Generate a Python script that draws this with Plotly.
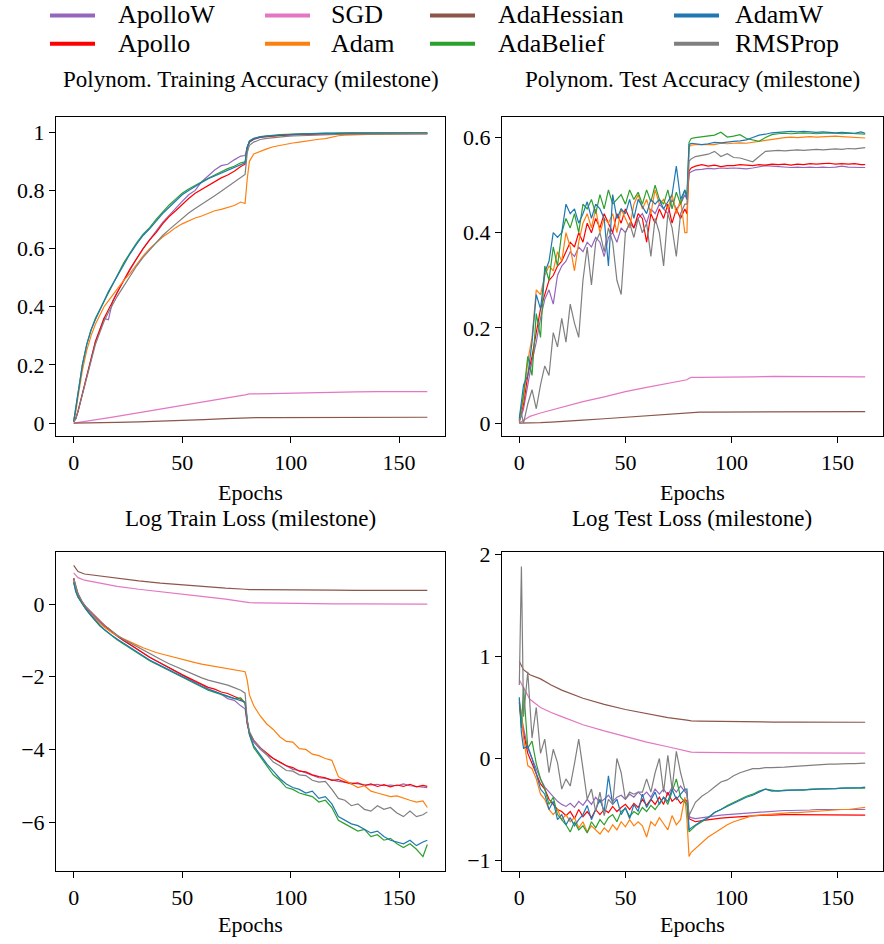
import plotly.graph_objects as go

W, H = 884, 944
FONT = "Liberation Serif"

# ---------------------------------------------------------------- data
# epochs at which the training-set curves and the loss curves are logged
EPOCHS = [0, 1, 2, 4, 6, 8, 10, 12, 14, 16, 18, 20,
          23, 26, 29, 32, 35, 38, 41, 44, 47, 50, 53, 56, 59, 62, 65, 68, 71, 74, 77,
          79, 80, 81,
          83, 86, 89, 92, 95, 98, 101, 104, 107, 110, 113, 116, 119, 122, 125, 128,
          131, 134, 137, 140, 143, 146, 149, 152, 155, 158, 161, 163]
# denser logging before the milestone for the test-set curves
EPOCHS_TEST = [0, 1, 2, 4, 6, 8, 10, 12, 14, 16, 18, 20, 22, 24, 26, 28, 30, 32, 34, 36, 38,
               40, 42, 44, 46, 48, 50, 52, 54, 56, 58, 60, 62, 64, 66, 68, 70, 72, 74, 76, 78,
               79, 80, 81,
               83, 86, 89, 92, 95, 98, 101, 104, 107, 110, 113, 116, 119, 122, 125, 128,
               131, 134, 137, 140, 143, 146, 149, 152, 155, 158, 161, 163]
# SGD and AdaHessian curves are smooth, logged coarsely
EPOCHS_SMOOTH = [0, 2, 5, 10, 15, 20, 30, 40, 50, 60, 70, 79, 80, 81, 85, 90,
                 100, 110, 120, 130, 140, 150, 163]

# training accuracy
TRAIN_ACC_APOLLOW = [0.005, 0.015, 0.04, 0.10, 0.17, 0.23, 0.28, 0.32, 0.36, 0.355, 0.42, 0.45,
                     0.49, 0.53, 0.565, 0.60, 0.632, 0.66, 0.69, 0.715, 0.74, 0.762, 0.785, 0.80, 0.83, 0.85, 0.87, 0.885, 0.89, 0.905, 0.918,
                     0.92, 0.95, 0.966,
                     0.975, 0.982, 0.985, 0.987, 0.989, 0.990, 0.991, 0.991, 0.992, 0.992, 0.993, 0.993, 0.993, 0.993,
                     0.994, 0.993, 0.994, 0.994, 0.994, 0.993, 0.994, 0.994, 0.994, 0.994, 0.994, 0.993, 0.994, 0.994]
TRAIN_ACC_APOLLO = [0.005, 0.018, 0.04, 0.10, 0.17, 0.23, 0.28, 0.32, 0.36, 0.39, 0.42, 0.45,
                    0.49, 0.53, 0.565, 0.60, 0.63, 0.655, 0.685, 0.71, 0.73, 0.752, 0.772, 0.79, 0.803, 0.818, 0.83, 0.843, 0.853, 0.866, 0.882,
                    0.89, 0.945, 0.967,
                    0.977, 0.983, 0.986, 0.988, 0.990, 0.991, 0.992, 0.993, 0.994, 0.994, 0.995, 0.995, 0.995, 0.996,
                    0.996, 0.996, 0.996, 0.996, 0.997, 0.997, 0.997, 0.997, 0.997, 0.997, 0.997, 0.997, 0.997, 0.997]
TRAIN_ACC_ADAM = [0.005, 0.04, 0.09, 0.18, 0.25, 0.30, 0.34, 0.37, 0.40, 0.42, 0.44, 0.46,
                  0.49, 0.515, 0.545, 0.575, 0.60, 0.62, 0.64, 0.655, 0.672, 0.685, 0.695, 0.705, 0.712, 0.722, 0.73, 0.735, 0.742, 0.748, 0.76,
                  0.755, 0.84, 0.90,
                  0.925, 0.935, 0.943, 0.95, 0.955, 0.96, 0.963, 0.966, 0.97, 0.973, 0.976, 0.978, 0.983, 0.988,
                  0.99, 0.991, 0.992, 0.993, 0.993, 0.994, 0.994, 0.994, 0.995, 0.995, 0.995, 0.995, 0.995, 0.995]
TRAIN_ACC_ADABELIEF = [0.005, 0.05, 0.10, 0.20, 0.27, 0.32, 0.36, 0.39, 0.42, 0.45, 0.48, 0.51,
                       0.55, 0.585, 0.62, 0.65, 0.672, 0.70, 0.725, 0.75, 0.77, 0.79, 0.805, 0.818, 0.83, 0.842, 0.853, 0.864, 0.875, 0.883, 0.895,
                       0.898, 0.948, 0.97,
                       0.979, 0.985, 0.988, 0.990, 0.992, 0.993, 0.994, 0.995, 0.996, 0.996, 0.997, 0.997, 0.997, 0.998,
                       0.998, 0.998, 0.998, 0.998, 0.998, 0.998, 0.998, 0.998, 0.998, 0.998, 0.998, 0.998, 0.998, 0.998]
TRAIN_ACC_ADAMW = [0.005, 0.05, 0.10, 0.20, 0.27, 0.32, 0.355, 0.39, 0.42, 0.452, 0.478, 0.508,
                   0.545, 0.582, 0.615, 0.645, 0.668, 0.695, 0.72, 0.742, 0.765, 0.785, 0.80, 0.815, 0.827, 0.84, 0.85, 0.86, 0.87, 0.88, 0.89,
                   0.895, 0.947, 0.969,
                   0.978, 0.984, 0.987, 0.989, 0.991, 0.992, 0.993, 0.994, 0.995, 0.995, 0.996, 0.996, 0.996, 0.997,
                   0.997, 0.997, 0.997, 0.997, 0.997, 0.997, 0.997, 0.997, 0.997, 0.997, 0.997, 0.997, 0.997, 0.997]
TRAIN_ACC_RMSPROP = [0.005, 0.015, 0.04, 0.10, 0.16, 0.22, 0.27, 0.31, 0.35, 0.38, 0.41, 0.435,
                     0.47, 0.505, 0.54, 0.57, 0.595, 0.62, 0.645, 0.665, 0.685, 0.705, 0.722, 0.738, 0.752, 0.767, 0.782, 0.797, 0.812, 0.827, 0.845,
                     0.855, 0.93, 0.955,
                     0.966, 0.975, 0.979, 0.982, 0.984, 0.986, 0.987, 0.988, 0.989, 0.990, 0.991, 0.991, 0.992, 0.992,
                     0.993, 0.993, 0.993, 0.994, 0.994, 0.994, 0.994, 0.994, 0.995, 0.995, 0.995, 0.995, 0.995, 0.995]
TRAIN_ACC_SGD = [0, 0.002, 0.005, 0.011, 0.017, 0.023, 0.036, 0.049, 0.061, 0.074, 0.086, 0.097,
                 0.099, 0.100, 0.100, 0.101, 0.102, 0.104, 0.106, 0.107, 0.108, 0.108, 0.108]
TRAIN_ACC_ADAHESSIAN = [0, 0, 0.0002, 0.0006, 0.001, 0.002, 0.004, 0.006, 0.009, 0.012, 0.015, 0.018,
                        0.0185, 0.0188, 0.019, 0.019, 0.019, 0.0193, 0.0195, 0.0197, 0.02, 0.02, 0.02]

# test accuracy (EPOCHS_TEST)
TEST_ACC_APOLLOW = [0.005, 0.015, 0.03, 0.08, 0.13, 0.17, 0.22, 0.26, 0.28, 0.25, 0.31, 0.33, 0.34, 0.36, 0.35, 0.37,
                    0.36, 0.38, 0.37, 0.39, 0.38, 0.35, 0.39, 0.40, 0.38, 0.41, 0.40, 0.42, 0.41, 0.43, 0.44, 0.42,
                    0.45, 0.44, 0.46, 0.45, 0.44, 0.47, 0.45, 0.46, 0.48,
                    0.47, 0.525, 0.528,
                    0.532, 0.533, 0.535, 0.534, 0.536, 0.535, 0.536, 0.535, 0.534, 0.536, 0.538, 0.541, 0.540, 0.539,
                    0.538, 0.537, 0.538, 0.537, 0.538, 0.537, 0.538, 0.537, 0.538, 0.540, 0.538, 0.537, 0.537, 0.537]
TEST_ACC_APOLLO = [0.005, 0.02, 0.04, 0.10, 0.14, 0.19, 0.24, 0.27, 0.30, 0.31, 0.33, 0.34, 0.36, 0.38, 0.37, 0.40,
                   0.38, 0.42, 0.40, 0.43, 0.41, 0.44, 0.42, 0.40, 0.44, 0.42, 0.45, 0.43, 0.41, 0.44, 0.43, 0.38,
                   0.44, 0.42, 0.45, 0.43, 0.46, 0.42, 0.45, 0.43, 0.45,
                   0.44, 0.53, 0.536,
                   0.540, 0.543, 0.540, 0.542, 0.539, 0.541, 0.541, 0.543, 0.542, 0.541, 0.543, 0.542, 0.544, 0.543,
                   0.544, 0.542, 0.544, 0.543, 0.545, 0.544, 0.545, 0.546, 0.544, 0.545, 0.544, 0.545, 0.543, 0.543]
TEST_ACC_ADAM = [0.005, 0.03, 0.05, 0.13, 0.18, 0.28, 0.27, 0.31, 0.33, 0.32, 0.36, 0.34, 0.40, 0.37, 0.32, 0.38,
                 0.42, 0.44, 0.41, 0.45, 0.40, 0.43, 0.42, 0.44, 0.40, 0.45, 0.43, 0.41, 0.46, 0.48, 0.45, 0.47,
                 0.44, 0.49, 0.46, 0.47, 0.45, 0.48, 0.44, 0.47, 0.40,
                 0.40, 0.58, 0.584,
                 0.585, 0.585, 0.586, 0.585, 0.588, 0.587, 0.588, 0.589, 0.588, 0.590, 0.592, 0.595, 0.597, 0.599,
                 0.600, 0.601, 0.600, 0.601, 0.602, 0.601, 0.602, 0.602, 0.603, 0.602, 0.601, 0.600, 0.599, 0.599]
TEST_ACC_ADABELIEF = [0.007, 0.03, 0.06, 0.14, 0.10, 0.23, 0.18, 0.33, 0.30, 0.37, 0.33, 0.40, 0.43, 0.41, 0.44, 0.40,
                      0.46, 0.45, 0.47, 0.44, 0.48, 0.45, 0.49, 0.46, 0.47, 0.48, 0.46, 0.49, 0.47, 0.485, 0.46, 0.49,
                      0.465, 0.50, 0.47, 0.46, 0.49, 0.45, 0.485, 0.46, 0.49,
                      0.48, 0.59, 0.598,
                      0.600, 0.602, 0.603, 0.605, 0.611, 0.601, 0.603, 0.606, 0.598, 0.595, 0.592, 0.600, 0.606, 0.608,
                      0.609, 0.608, 0.609, 0.610, 0.609, 0.608, 0.609, 0.610, 0.609, 0.608, 0.609, 0.608, 0.607, 0.607]
TEST_ACC_ADAMW = [0.01, 0.05, 0.08, 0.10, 0.17, 0.27, 0.24, 0.317, 0.34, 0.40, 0.39, 0.40, 0.46, 0.44, 0.45, 0.42,
                  0.44, 0.465, 0.43, 0.46, 0.45, 0.43, 0.33, 0.48, 0.43, 0.45, 0.44, 0.47, 0.43, 0.47, 0.455, 0.44,
                  0.47, 0.46, 0.47, 0.45, 0.465, 0.48, 0.54, 0.47, 0.49,
                  0.47, 0.585, 0.588,
                  0.587, 0.585, 0.587, 0.590, 0.589, 0.591, 0.592, 0.593, 0.595, 0.600, 0.605, 0.607, 0.610, 0.611,
                  0.612, 0.613, 0.612, 0.613, 0.612, 0.611, 0.612, 0.611, 0.610, 0.611, 0.610, 0.609, 0.612, 0.609]
TEST_ACC_RMSPROP = [0.0, 0.02, 0.0, 0.04, 0.07, 0.03, 0.08, 0.12, 0.10, 0.19, 0.16, 0.22, 0.17, 0.25, 0.21, 0.18,
                    0.30, 0.37, 0.29, 0.38, 0.40, 0.36, 0.41, 0.38, 0.30, 0.27, 0.40, 0.42, 0.39, 0.43, 0.40, 0.42,
                    0.35, 0.43, 0.40, 0.33, 0.44, 0.41, 0.35, 0.44, 0.46,
                    0.46, 0.55, 0.555,
                    0.560, 0.562, 0.565, 0.571, 0.560, 0.566, 0.558, 0.557, 0.553, 0.549, 0.560, 0.571, 0.572, 0.573,
                    0.572, 0.573, 0.574, 0.573, 0.574, 0.575, 0.574, 0.575, 0.576, 0.575, 0.577, 0.576, 0.578, 0.579]
TEST_ACC_SGD = [0, 0.006, 0.014, 0.021, 0.027, 0.033, 0.045, 0.055, 0.066, 0.075, 0.083, 0.091,
                0.094, 0.096, 0.096, 0.096, 0.097, 0.097, 0.098, 0.098, 0.098, 0.098, 0.097]
TEST_ACC_ADAHESSIAN = [0, 0, 0.0005, 0.001, 0.002, 0.003, 0.006, 0.009, 0.012, 0.015, 0.018, 0.021,
                       0.022, 0.022, 0.023, 0.023, 0.023, 0.024, 0.024, 0.024, 0.024, 0.024, 0.024]

# log training loss (EPOCHS)
TRAIN_LOSS_APOLLOW = [0.70, 0.44, 0.27, 0.04, -0.13, -0.27, -0.38, -0.50, -0.60, -0.66, -0.78, -0.88,
                      -1.00, -1.12, -1.24, -1.36, -1.46, -1.56, -1.66, -1.76, -1.86, -1.95, -2.05, -2.15, -2.22, -2.33, -2.40, -2.48, -2.60, -2.65, -2.80,
                      -2.88, -3.30, -3.55,
                      -3.80, -4.00, -4.15, -4.25, -4.35, -4.45, -4.55, -4.58, -4.65, -4.70, -4.78, -4.80, -4.85, -4.88,
                      -4.90, -4.93, -4.95, -4.97, -4.98, -4.96, -5.00, -4.98, -5.00, -4.95, -5.00, -5.02, -5.05, -5.05]
TRAIN_LOSS_APOLLO = [0.72, 0.45, 0.28, 0.05, -0.10, -0.22, -0.35, -0.47, -0.58, -0.69, -0.79, -0.88,
                     -1.00, -1.11, -1.23, -1.36, -1.46, -1.56, -1.66, -1.76, -1.85, -1.94, -2.03, -2.12, -2.20, -2.29, -2.34, -2.42, -2.46, -2.55, -2.62,
                     -2.72, -3.30, -3.55,
                     -3.75, -3.95, -4.10, -4.25, -4.35, -4.45, -4.50, -4.60, -4.62, -4.70, -4.75, -4.78, -4.85, -4.83,
                     -4.90, -4.95, -4.92, -5.00, -4.95, -5.02, -4.97, -5.03, -4.98, -5.02, -4.96, -5.03, -4.99, -5.02]
TRAIN_LOSS_ADAM = [0.65, 0.40, 0.22, 0.00, -0.17, -0.30, -0.42, -0.53, -0.63, -0.72, -0.80, -0.87,
                   -0.96, -1.04, -1.12, -1.20, -1.27, -1.33, -1.38, -1.43, -1.48, -1.52, -1.57, -1.61, -1.65, -1.68, -1.72, -1.75, -1.78, -1.80, -1.83,
                   -1.86, -2.10, -2.50,
                   -2.80, -3.08, -3.30, -3.45, -3.65, -3.78, -3.80, -3.98, -4.00, -4.13, -4.17, -4.25, -4.30, -4.75,
                   -4.85, -4.95, -5.05, -5.00, -5.15, -5.20, -5.25, -5.30, -5.28, -5.35, -5.40, -5.45, -5.42, -5.60]
TRAIN_LOSS_ADABELIEF = [0.61, 0.35, 0.20, 0.00, -0.17, -0.32, -0.47, -0.60, -0.70, -0.80, -0.90, -0.98,
                        -1.10, -1.22, -1.34, -1.46, -1.56, -1.65, -1.74, -1.84, -1.92, -2.02, -2.10, -2.18, -2.27, -2.37, -2.43, -2.48, -2.55, -2.60, -2.58,
                        -2.72, -3.20, -3.60,
                        -3.95, -4.20, -4.45, -4.70, -4.85, -5.05, -5.10, -5.20, -5.25, -5.30, -5.45, -5.40, -5.60, -5.95,
                        -6.05, -6.15, -6.25, -6.20, -6.40, -6.35, -6.50, -6.45, -6.60, -6.70, -6.60, -6.75, -6.95, -6.62]
TRAIN_LOSS_ADAMW = [0.60, 0.34, 0.19, 0.00, -0.16, -0.31, -0.45, -0.58, -0.69, -0.79, -0.88, -0.96,
                    -1.08, -1.20, -1.32, -1.44, -1.54, -1.63, -1.72, -1.82, -1.90, -2.00, -2.08, -2.16, -2.25, -2.35, -2.41, -2.47, -2.53, -2.58, -2.66,
                    -2.70, -3.20, -3.58,
                    -3.90, -4.15, -4.40, -4.60, -4.80, -4.95, -5.05, -5.10, -5.20, -5.15, -5.35, -5.30, -5.50, -5.85,
                    -5.95, -6.05, -6.10, -6.20, -6.30, -6.25, -6.40, -6.50, -6.55, -6.60, -6.50, -6.65, -6.55, -6.50]
TRAIN_LOSS_RMSPROP = [0.72, 0.46, 0.29, 0.06, -0.10, -0.22, -0.35, -0.46, -0.57, -0.67, -0.76, -0.85,
                      -0.97, -1.07, -1.17, -1.27, -1.37, -1.46, -1.55, -1.64, -1.72, -1.80, -1.88, -1.96, -2.03, -2.09, -2.13, -2.18, -2.23, -2.30, -2.37,
                      -2.45, -3.20, -3.50,
                      -3.75, -3.95, -4.15, -4.35, -4.45, -4.58, -4.60, -4.70, -4.72, -4.85, -4.90, -4.88, -5.10, -5.35,
                      -5.40, -5.55, -5.50, -5.65, -5.70, -5.55, -5.65, -5.60, -5.75, -5.85, -5.70, -5.85, -5.80, -5.72]
TRAIN_LOSS_SGD = [0.86, 0.73, 0.66, 0.60, 0.54, 0.49, 0.41, 0.35, 0.28, 0.21, 0.14, 0.07,
                  0.05, 0.04, 0.035, 0.03, 0.02, 0.015, 0.01, 0.01, 0.005, 0.0, 0.0]
TRAIN_LOSS_ADAHESSIAN = [1.07, 0.90, 0.83, 0.79, 0.75, 0.71, 0.64, 0.58, 0.53, 0.48, 0.44, 0.41,
                         0.40, 0.40, 0.40, 0.395, 0.39, 0.385, 0.385, 0.38, 0.38, 0.38, 0.38]

# log test loss (EPOCHS_TEST)
TEST_LOSS_APOLLOW = [0.52, 0.40, 0.30, 0.10, 0.00, -0.10, -0.20, -0.28, -0.33, -0.38, -0.42, -0.45, -0.47, -0.44, -0.48, -0.42,
                     -0.46, -0.40, -0.45, -0.38, -0.43, -0.40, -0.36, -0.42, -0.38, -0.36, -0.40, -0.35, -0.38, -0.33, -0.37, -0.33,
                     -0.38, -0.30, -0.35, -0.30, -0.36, -0.28, -0.33, -0.27, -0.32,
                     -0.35, -0.57, -0.58,
                     -0.59, -0.58, -0.57, -0.56, -0.555, -0.55, -0.545, -0.54, -0.535, -0.53, -0.525, -0.52, -0.515, -0.51,
                     -0.51, -0.51, -0.51, -0.505, -0.505, -0.50, -0.50, -0.50, -0.50, -0.50, -0.50, -0.50, -0.50, -0.50]
TEST_LOSS_APOLLO = [0.55, 0.35, 0.25, 0.05, -0.05, -0.15, -0.25, -0.30, -0.40, -0.45, -0.50, -0.52, -0.56, -0.52, -0.59, -0.50,
                    -0.57, -0.52, -0.58, -0.50, -0.55, -0.50, -0.53, -0.47, -0.52, -0.48, -0.45, -0.50, -0.44, -0.48, -0.40, -0.46,
                    -0.40, -0.45, -0.38, -0.45, -0.33, -0.42, -0.38, -0.44, -0.40,
                    -0.42, -0.59, -0.60,
                    -0.62, -0.61, -0.60, -0.59, -0.585, -0.58, -0.575, -0.57, -0.565, -0.56, -0.56, -0.555, -0.555, -0.55,
                    -0.55, -0.55, -0.55, -0.55, -0.55, -0.55, -0.55, -0.55, -0.55, -0.55, -0.55, -0.555, -0.55, -0.555]
TEST_LOSS_ADAM = [0.55, 0.45, 0.20, -0.07, -0.10, -0.20, -0.35, -0.40, -0.50, -0.55, -0.50, -0.60, -0.55, -0.62, -0.58, -0.68,
                  -0.62, -0.72, -0.66, -0.70, -0.74, -0.68, -0.72, -0.65, -0.70, -0.62, -0.67, -0.60, -0.66, -0.62, -0.66, -0.77,
                  -0.62, -0.66, -0.58, -0.64, -0.70, -0.56, -0.65, -0.60, -0.38,
                  -0.60, -0.96, -0.92,
                  -0.88, -0.82, -0.77, -0.73, -0.69, -0.65, -0.62, -0.60, -0.58, -0.56, -0.555, -0.55, -0.54, -0.54,
                  -0.535, -0.53, -0.53, -0.525, -0.52, -0.515, -0.51, -0.51, -0.505, -0.50, -0.50, -0.495, -0.49, -0.48]
TEST_LOSS_ADABELIEF = [0.58, 0.30, 0.70, 0.10, 0.17, -0.05, -0.20, -0.30, -0.45, -0.38, -0.55, -0.60, -0.65, -0.72, -0.62, -0.70,
                       -0.66, -0.73, -0.62, -0.68, -0.60, -0.65, -0.58, -0.55, -0.62, -0.52, -0.49, -0.57, -0.52, -0.55, -0.48, -0.52,
                       -0.46, -0.50, -0.44, -0.38, -0.45, -0.33, -0.20, -0.38, -0.42,
                       -0.45, -0.72, -0.70,
                       -0.66, -0.62, -0.58, -0.53, -0.50, -0.46, -0.43, -0.40, -0.37, -0.35, -0.32, -0.30, -0.31, -0.32,
                       -0.31, -0.31, -0.305, -0.31, -0.30, -0.30, -0.30, -0.30, -0.295, -0.29, -0.29, -0.29, -0.285, -0.29]
TEST_LOSS_ADAMW = [0.60, 0.25, 0.10, 0.12, 0.00, -0.15, -0.30, -0.35, -0.50, -0.42, -0.60, -0.55, -0.65, -0.58, -0.66, -0.60,
                   -0.55, -0.46, -0.60, -0.50, -0.40, -0.52, -0.17, -0.45, -0.40, -0.55, -0.48, -0.59, -0.45, -0.52, -0.35, -0.48,
                   -0.40, -0.33, -0.45, -0.38, -0.42, -0.30, -0.40, -0.35, -0.30,
                   -0.30, -0.70, -0.68,
                   -0.65, -0.61, -0.58, -0.53, -0.50, -0.47, -0.44, -0.41, -0.38, -0.36, -0.33, -0.30, -0.32, -0.32,
                   -0.315, -0.31, -0.31, -0.305, -0.305, -0.30, -0.30, -0.30, -0.295, -0.29, -0.29, -0.285, -0.285, -0.28]
TEST_LOSS_RMSPROP = [0.72, 1.88, 0.41, 0.85, 0.20, 0.50, 0.05, 0.19, -0.14, 0.09, -0.04, -0.30, -0.20, -0.27, -0.05, 0.19,
                     -0.10, -0.40, -0.30, -0.52, -0.33, -0.56, -0.40, -0.45, 0.00, -0.14, -0.40, -0.33, -0.35, -0.33, -0.33, -0.20,
                     -0.33, -0.14, 0.00, -0.33, 0.03, -0.30, 0.07, -0.14, -0.30,
                     -0.33, -0.56, -0.52,
                     -0.43, -0.37, -0.33, -0.28, -0.23, -0.21, -0.17, -0.14, -0.12, -0.10, -0.10, -0.09, -0.09, -0.09,
                     -0.085, -0.08, -0.075, -0.07, -0.07, -0.065, -0.06, -0.055, -0.055, -0.05, -0.05, -0.05, -0.048, -0.045]
TEST_LOSS_SGD = [0.77, 0.69, 0.58, 0.50, 0.45, 0.41, 0.33, 0.27, 0.215, 0.16, 0.115, 0.075,
                 0.065, 0.062, 0.06, 0.058, 0.056, 0.055, 0.054, 0.053, 0.052, 0.052, 0.052]
TEST_LOSS_ADAHESSIAN = [0.95, 0.87, 0.82, 0.78, 0.72, 0.67, 0.59, 0.53, 0.48, 0.44, 0.40, 0.375,
                        0.37, 0.368, 0.366, 0.364, 0.36, 0.358, 0.357, 0.356, 0.356, 0.355, 0.355]

OPTIMIZERS = ["ApolloW", "Apollo", "SGD", "Adam", "AdaHessian", "AdaBelief", "AdamW", "RMSProp"]
COLORS = {
    "ApolloW": "#9467bd", "Apollo": "#ff0000", "SGD": "#e377c2", "Adam": "#ff7f0e",
    "AdaHessian": "#8c564b", "AdaBelief": "#2ca02c", "AdamW": "#1f77b4", "RMSProp": "#7f7f7f",
}
SMOOTH_RUNS = {"SGD", "AdaHessian"}

PANEL_TITLES = ["Polynom. Training Accuracy (milestone)", "Polynom. Test Accuracy (milestone)",
                "Log Train Loss (milestone)", "Log Test Loss (milestone)"]
PANEL_EPOCHS = [EPOCHS, EPOCHS_TEST, EPOCHS, EPOCHS_TEST]
X_TICKS = [0, 50, 100, 150]
Y_TICKS = [[0, 0.2, 0.4, 0.6, 0.8, 1], [0, 0.2, 0.4, 0.6], [-6, -4, -2, 0], [-1, 0, 1, 2]]
Y_TICK_LABELS = [["0", "0.2", "0.4", "0.6", "0.8", "1"], ["0", "0.2", "0.4", "0.6"],
                 ["\u22126", "\u22124", "\u22122", "0"], ["\u22121", "0", "1", "2"]]

PANEL_DATA = [
    {"ApolloW": TRAIN_ACC_APOLLOW, "Apollo": TRAIN_ACC_APOLLO, "SGD": TRAIN_ACC_SGD, "Adam": TRAIN_ACC_ADAM,
     "AdaHessian": TRAIN_ACC_ADAHESSIAN, "AdaBelief": TRAIN_ACC_ADABELIEF, "AdamW": TRAIN_ACC_ADAMW,
     "RMSProp": TRAIN_ACC_RMSPROP},
    {"ApolloW": TEST_ACC_APOLLOW, "Apollo": TEST_ACC_APOLLO, "SGD": TEST_ACC_SGD, "Adam": TEST_ACC_ADAM,
     "AdaHessian": TEST_ACC_ADAHESSIAN, "AdaBelief": TEST_ACC_ADABELIEF, "AdamW": TEST_ACC_ADAMW,
     "RMSProp": TEST_ACC_RMSPROP},
    {"ApolloW": TRAIN_LOSS_APOLLOW, "Apollo": TRAIN_LOSS_APOLLO, "SGD": TRAIN_LOSS_SGD, "Adam": TRAIN_LOSS_ADAM,
     "AdaHessian": TRAIN_LOSS_ADAHESSIAN, "AdaBelief": TRAIN_LOSS_ADABELIEF, "AdamW": TRAIN_LOSS_ADAMW,
     "RMSProp": TRAIN_LOSS_RMSPROP},
    {"ApolloW": TEST_LOSS_APOLLOW, "Apollo": TEST_LOSS_APOLLO, "SGD": TEST_LOSS_SGD, "Adam": TEST_LOSS_ADAM,
     "AdaHessian": TEST_LOSS_ADAHESSIAN, "AdaBelief": TEST_LOSS_ADABELIEF, "AdamW": TEST_LOSS_ADAMW,
     "RMSProp": TEST_LOSS_RMSPROP},
]

# ---------------------------------------------------------------- layout geometry (pixels)
# plot boxes: (left, top, right, bottom)
BOXES = [(56, 109.6, 445, 432.3), (502, 109.6, 882.5, 432.3),
         (56, 548.9, 445, 872.6), (502, 548.9, 882.5, 872.6)]
X_RANGE = [-8.15, 171.15]
Y_RANGES = [[-0.0454, 1.0513], [-0.0278, 0.6425], [-7.36, 1.45], [-1.107, 2.028]]
TITLE_Y = [71.0, 71.0, 516.0, 516.0]
XLABEL_Y = [489.0, 489.0, 926.0, 926.0]
TITLE_SIZE = 23
XLABEL_SIZE = 22


def fx(p):
    return p / W


def fy(p):
    return 1 - p / H


fig = go.Figure()

for i, series in enumerate(PANEL_DATA):
    suffix = "" if i == 0 else str(i + 1)
    for name in OPTIMIZERS:
        xs = EPOCHS_SMOOTH if name in SMOOTH_RUNS else PANEL_EPOCHS[i]
        ys = series[name]
        assert len(xs) == len(ys), (i, name, len(xs), len(ys))
        fig.add_trace(go.Scatter(
            x=xs, y=ys, mode="lines", name=name, showlegend=False,
            line=dict(color=COLORS[name], width=1.2),
            xaxis="x" + suffix, yaxis="y" + suffix,
        ))

axis_common = dict(
    showgrid=False, zeroline=False, showline=True, linecolor="black", linewidth=1,
    mirror=True, ticks="outside", ticklen=6, tickwidth=1, tickcolor="black",
    tickfont=dict(family=FONT, size=22, color="black"),
)

layout = dict(
    width=W, height=H, margin=dict(l=0, r=0, t=0, b=0),
    paper_bgcolor="white", plot_bgcolor="white",
    font=dict(family=FONT, color="black"),
    showlegend=False,
)

annotations = []
shapes = []
for i, (l, t, r, b) in enumerate(BOXES):
    suffix = "" if i == 0 else str(i + 1)
    layout["xaxis" + suffix] = dict(
        axis_common, domain=[fx(l), fx(r)], anchor="y" + suffix,
        range=X_RANGE, tickvals=X_TICKS, ticktext=[str(v) for v in X_TICKS],
    )
    layout["yaxis" + suffix] = dict(
        axis_common, domain=[fy(b), fy(t)], anchor="x" + suffix,
        range=Y_RANGES[i], tickvals=Y_TICKS[i], ticktext=Y_TICK_LABELS[i],
    )
    cx = (l + r) / 2
    annotations.append(dict(
        text=PANEL_TITLES[i], x=fx(cx), y=fy(TITLE_Y[i]), xref="paper", yref="paper",
        xanchor="center", yanchor="middle", showarrow=False,
        font=dict(family=FONT, size=TITLE_SIZE, color="black"),
    ))
    annotations.append(dict(
        text="Epochs", x=fx(cx), y=fy(XLABEL_Y[i]), xref="paper", yref="paper",
        xanchor="center", yanchor="middle", showarrow=False,
        font=dict(family=FONT, size=XLABEL_SIZE, color="black"),
    ))

# legend: four columns, two rows, filled column by column
LEGEND_LINE_X = [50, 265, 430, 674]
LEGEND_TEXT_X = [116, 329, 496, 733]
LEGEND_LINE_Y = [6.5, 35.2]
LEGEND_TEXT_Y = [6.0, 34.5]
for k, name in enumerate(OPTIMIZERS):
    col, row = divmod(k, 2)
    shapes.append(dict(
        type="line", xref="paper", yref="paper",
        x0=fx(LEGEND_LINE_X[col]), x1=fx(LEGEND_LINE_X[col] + 45),
        y0=fy(LEGEND_LINE_Y[row]), y1=fy(LEGEND_LINE_Y[row]),
        line=dict(color=COLORS[name], width=4),
    ))
    annotations.append(dict(
        text=name, x=fx(LEGEND_TEXT_X[col]), y=fy(LEGEND_TEXT_Y[row]), xref="paper", yref="paper",
        xanchor="left", yanchor="middle", showarrow=False,
        font=dict(family=FONT, size=26, color="black"),
    ))

layout["annotations"] = annotations
layout["shapes"] = shapes
fig.update_layout(**layout)

fig.write_html("out.html")
